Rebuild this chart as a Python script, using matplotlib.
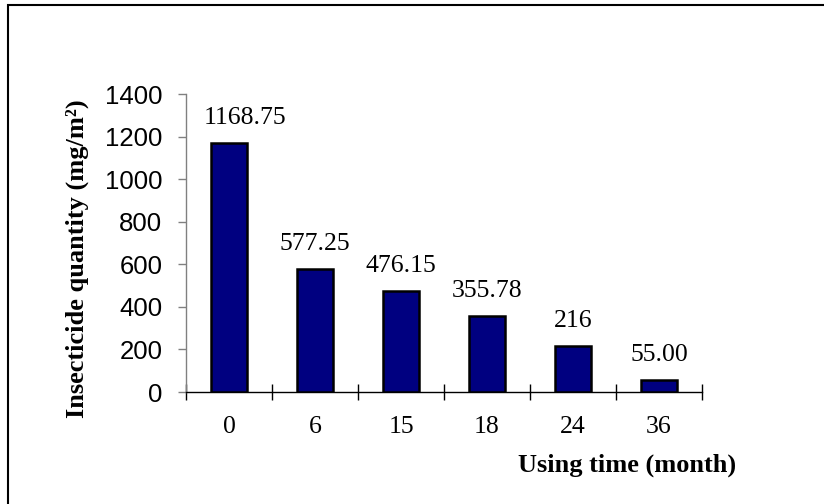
import matplotlib
matplotlib.use("Agg")
import matplotlib.pyplot as plt
from matplotlib.patches import Rectangle

# Data
months = ["0", "6", "15", "18", "24", "36"]
quantity = [1168.75, 577.25, 476.15, 355.78, 216, 55.00]
value_labels = ["1168.75", "577.25", "476.15", "355.78", "216", "55.00"]
y_ticks = [0, 200, 400, 600, 800, 1000, 1200, 1400]

W, H = 824, 504
fig = plt.figure(figsize=(W / 100, H / 100), dpi=100)
ax = fig.add_axes([186 / W, 1 - 392 / H, (702 - 186) / W, (392 - 94) / H])

serif = "Liberation Serif"
sans = "Liberation Sans"

x = list(range(len(months)))
ax.bar(x, quantity, width=0.42, color="#000080", edgecolor="black",
       linewidth=1.8, zorder=3)

# value labels; the first one is nudged right to clear the value axis
for i, (xi, v, lab) in enumerate(zip(x, quantity, value_labels)):
    dx = 11.5 if i == 0 else 0
    ax.annotate(lab, (xi, v), xytext=(dx, 10), textcoords="offset points",
                ha="center", va="bottom", fontsize=18.5, family=serif)

ax.set_xlim(-0.5, len(months) - 0.5)
ax.set_ylim(0, 1400)
ax.set_yticks(y_ticks)
ax.set_yticklabels([str(t) for t in y_ticks], fontsize=18.5, family=sans)

ax.set_xticks(x)
ax.set_xticklabels(months, fontsize=18.5, family=serif)
ax.tick_params(axis="x", which="major", length=0, pad=17)
ax.set_xticks([i - 0.5 for i in range(len(months) + 1)], minor=True)
ax.tick_params(axis="x", which="minor", direction="inout", length=11.5,
               width=1.0, color="black")
ax.tick_params(axis="y", direction="out", length=6, width=1.0,
               color="#808080", pad=11)

for s in ("top", "right"):
    ax.spines[s].set_visible(False)
ax.spines["left"].set_color("#808080")
ax.spines["left"].set_linewidth(1.0)
ax.spines["bottom"].set_color("black")
ax.spines["bottom"].set_linewidth(1.0)

fig.text(77 / W, 1 - 259 / H, "Insecticide quantity (mg/m²)", fontsize=19,
         family=serif, fontweight="bold", rotation=90,
         ha="center", va="center")

fig.text(627 / W, 1 - 465 / H, "Using time (month)", fontsize=19,
         family=serif, fontweight="bold", ha="center", va="center")

# Outer chart frame
fig.patches.append(Rectangle((8 / W, -0.1), 1.2, 1 - 5 / H + 0.1,
                             transform=fig.transFigure, fill=False,
                             edgecolor="black", linewidth=1.5))

fig.savefig("out.png", dpi=100)
